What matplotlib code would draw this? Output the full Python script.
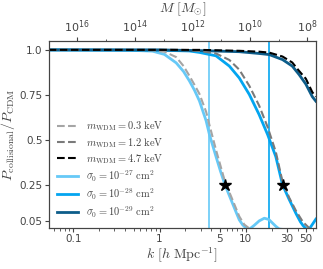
import numpy as np
import matplotlib
matplotlib.use("Agg")
import matplotlib.pyplot as plt
from matplotlib.ticker import FixedLocator, NullFormatter

plt.rcParams["mathtext.fontset"] = "cm"

# values
k_light = [0.052, 0.45, 0.83, 1.14, 1.56, 1.9, 2.22, 2.55, 2.90, 3.47, 3.79, 4.52, 5.1, 5.75, 6.98, 7.7, 8.41, 9.2, 10.0, 11.0, 12.5, 14.3, 16.4, 18.5, 20.2, 22.3, 24.4, 30.0, 65.0]
p_light = [1.0, 0.998, 0.993, 0.975, 0.928, 0.88, 0.828, 0.775, 0.717, 0.606, 0.53, 0.407, 0.325, 0.25, 0.15, 0.1, 0.056, 0.028, 0.012, 0.004, 0.025, 0.05, 0.065, 0.058, 0.04, 0.02, 0.005, 0.0, 0.0]

k_mid = [0.052, 1.0, 2.22, 2.90, 4.52, 6.45, 8.41, 11.0, 14.3, 17.9, 22.3, 26.7, 31.8, 38.3, 43.0, 46.0, 50.5, 55.0, 60.0, 65.0]
p_mid = [1.0, 0.998, 0.994, 0.986, 0.967, 0.91, 0.844, 0.752, 0.64, 0.53, 0.407, 0.25, 0.17, 0.09, 0.045, 0.025, 0.004, 0.008, 0.035, 0.06]

k_dark = [0.052, 1.0, 2.90, 8.41, 14.3, 18.7, 26.7, 34.6, 41.5, 49.7, 59.1, 65.0]
p_dark = [1.0, 1.0, 0.996, 0.99, 0.98, 0.974, 0.946, 0.91, 0.863, 0.81, 0.74, 0.715]

k_w03 = [0.052, 0.5, 0.83, 1.14, 1.56, 1.9, 2.22, 2.55, 2.90, 3.47, 3.79, 4.52, 5.75, 6.98, 8.41, 9.6, 11.0, 15.0, 65.0]
p_w03 = [1.0, 1.0, 0.997, 0.99, 0.96, 0.91, 0.856, 0.805, 0.756, 0.656, 0.583, 0.444, 0.267, 0.17, 0.075, 0.03, 0.008, 0.0, 0.0]

k_w12 = [0.052, 1.5, 2.22, 2.90, 4.52, 6.45, 8.41, 11.0, 14.3, 17.9, 22.3, 26.7, 31.8, 38.3, 46.0, 54.5, 65.0]
p_w12 = [1.0, 1.0, 0.998, 0.994, 0.98, 0.944, 0.89, 0.80, 0.69, 0.572, 0.433, 0.267, 0.18, 0.105, 0.044, 0.01, 0.0]

k_w47 = [0.052, 3.0, 8.41, 14.3, 18.7, 26.7, 34.6, 41.5, 49.7, 59.1, 65.0]
p_w47 = [1.0, 1.0, 0.995, 0.99, 0.985, 0.963, 0.93, 0.883, 0.84, 0.765, 0.74]

k_vlines = [3.79, 18.7]
k_stars = [5.75, 26.7]
p_stars = [0.25, 0.25]

M_ticks = [1e16, 1e14, 1e12, 1e10, 1e8]
M_labels = [r"$\mathdefault{10^{16}}$", r"$\mathdefault{10^{14}}$", r"$\mathdefault{10^{12}}$",
            r"$\mathdefault{10^{10}}$", r"$\mathdefault{10^{8}}$"]
M_minor = [1e15, 1e13, 1e11, 1e9]
M_const = 1.38e13  # M = M_const * k^-3

c_light = "#66c9f7"
c_mid = "#03a5f0"
c_dark = "#0d5d8a"
c_text = "#444444"

fig = plt.figure(figsize=(3.23, 2.69), dpi=100)
ax = fig.add_axes([0.151, 0.152, 0.827, 0.696])

ax.axvline(k_vlines[0], color=c_light, lw=1.2, zorder=1)
ax.axvline(k_vlines[1], color=c_mid, lw=1.2, zorder=1)

ax.plot(k_w03, p_w03, ls="--", color="#a5a5a5", lw=1.5, zorder=3, label=r"$m_{\rm WDM} = 0.3\ {\rm keV}$")
ax.plot(k_w12, p_w12, ls="--", color="#7a7a7a", lw=1.5, zorder=3, label=r"$m_{\rm WDM} = 1.2\ {\rm keV}$")
ax.plot(k_w47, p_w47, ls="--", color="black", lw=1.5, zorder=3, label=r"$m_{\rm WDM} = 4.7\ {\rm keV}$")
ax.plot(k_light, p_light, color=c_light, lw=2, zorder=2, label=r"$\sigma_0 = 10^{-27}\ {\rm cm}^2$")
ax.plot(k_mid, p_mid, color=c_mid, lw=2, zorder=2, label=r"$\sigma_0 = 10^{-28}\ {\rm cm}^2$")
ax.plot(k_dark, p_dark, color=c_dark, lw=2, zorder=2, label=r"$\sigma_0 = 10^{-29}\ {\rm cm}^2$")

ax.plot(k_stars, p_stars, ls="none", marker="*", ms=9, color="black", zorder=5)

ax.set_xscale("log")
ax.set_xlim(0.052, 65)
ax.set_ylim(0.01, 1.05)
ax.set_xticks([0.1, 1, 5, 10, 30, 50])
ax.set_xticklabels(["0.1", "1", "5", "10", "30", "50"])
ax.set_yticks([0.05, 0.25, 0.5, 0.75, 1.0])
ax.set_yticklabels(["0.05", "0.25", "0.5", "0.75", "1.0"])
ax.set_xlabel(r"$k\ [h\ \mathrm{Mpc}^{-1}]$", fontsize=10, color=c_text, labelpad=1)
ax.set_ylabel(r"$P_{\rm collisional}/P_{\rm CDM}$", fontsize=10, color=c_text, labelpad=2)

for s in ax.spines.values():
    s.set_color(c_text)
    s.set_linewidth(0.8)
ax.tick_params(which="both", colors=c_text, labelsize=7.5, pad=1.5)
ax.tick_params(which="major", length=3)
ax.tick_params(which="minor", length=1.8)

# top axis: halo mass, M = M_const * k^-3
top = ax.twiny()
top.set_xscale("log")
top.set_xlim(ax.get_xlim())
top.xaxis.set_major_locator(FixedLocator([(M_const / m) ** (1.0 / 3.0) for m in M_ticks]))
top.set_xticklabels(M_labels)
top.xaxis.set_minor_locator(FixedLocator([(M_const / m) ** (1.0 / 3.0) for m in M_minor]))
top.xaxis.set_minor_formatter(NullFormatter())
top.set_xlabel(r"$M\ [M_{\odot}]$", fontsize=10, color=c_text, labelpad=4)
top.tick_params(which="both", colors=c_text, labelsize=8, pad=1.5)
top.tick_params(which="major", length=3)
top.tick_params(which="minor", length=1.8)
for s in top.spines.values():
    s.set_color(c_text)
    s.set_linewidth(0.8)

leg = ax.legend(loc="lower left", bbox_to_anchor=(0.0, 0.0), frameon=False, fontsize=7.5,
                handlelength=2.0, labelspacing=0.25, handletextpad=0.8, borderaxespad=0.4)
for t in leg.get_texts():
    t.set_color(c_text)

fig.savefig("out.png", dpi=100)
